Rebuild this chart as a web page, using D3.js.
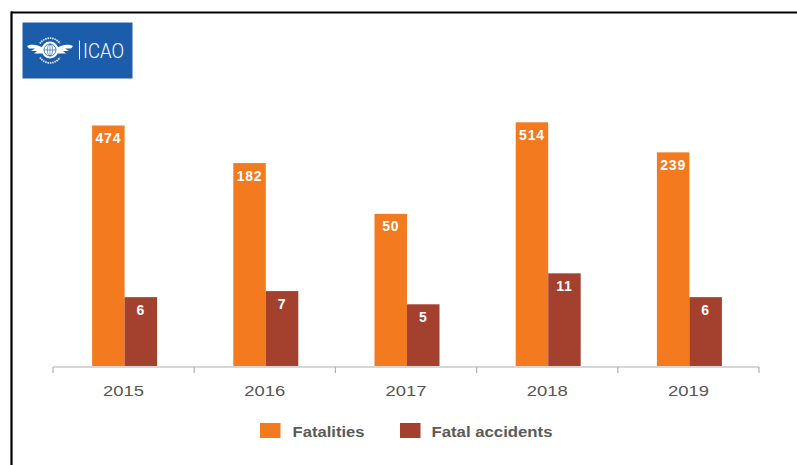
<!DOCTYPE html>
<html>
<head>
<meta charset="utf-8">
<script src="https://cdn.jsdelivr.net/npm/d3@7"></script>
<style>
  html, body { margin: 0; padding: 0; background: #fff; }
  svg { display: block; }
</style>
</head>
<body>
<script>
// ---- data ----
const years = ["2015", "2016", "2017", "2018", "2019"];
const seriesNames = ["Fatalities", "Fatal accidents"];
const fatalities = [474, 182, 50, 514, 239];
const fatalAccidents = [6, 7, 5, 11, 6];
const colors = ["#f47a20", "#a3402e"];

const W = 797, H = 465;
const svg = d3.select("body").append("svg").attr("width", W).attr("height", H);

// frame (top and left rule)
svg.append("rect").attr("x", 0).attr("y", 0).attr("width", W).attr("height", H).attr("fill", "#fff");
svg.append("line").attr("x1", 11).attr("x2", W).attr("y1", 12.5).attr("y2", 12.5)
  .attr("stroke", "#000").attr("stroke-width", 2.2);
svg.append("line").attr("x1", 11.5).attr("x2", 11.5).attr("y1", 11.5).attr("y2", H)
  .attr("stroke", "#000").attr("stroke-width", 2.2);

// ---- logo ----
const logo = svg.append("g");
logo.append("rect").attr("x", 22.5).attr("y", 22.5).attr("width", 110).attr("height", 56).attr("fill", "#1c5dab");
const em = logo.append("g").attr("transform", "translate(50,50)");
// wings
em.append("path").attr("d", "M-7,-2 C-13,-6 -19,-6 -23,-4 L-21,-1.5 L-15,-1.5 L-19,1 L-13,1 L-16,3.5 L-8,3.5 Z").attr("fill", "#fff");
em.append("path").attr("d", "M7,-2 C13,-6 19,-6 23,-4 L21,-1.5 L15,-1.5 L19,1 L13,1 L16,3.5 L8,3.5 Z").attr("fill", "#fff");
// globe
em.append("circle").attr("r", 8.5).attr("fill", "#fff");
em.append("circle").attr("r", 6).attr("fill", "none").attr("stroke", "#1c5dab").attr("stroke-width", 0.8);
em.append("ellipse").attr("rx", 2.6).attr("ry", 6).attr("fill", "none").attr("stroke", "#1c5dab").attr("stroke-width", 0.6);
em.append("line").attr("x1", -6).attr("x2", 6).attr("y1", 0).attr("y2", 0).attr("stroke", "#1c5dab").attr("stroke-width", 0.6);
em.append("line").attr("x1", 0).attr("x2", 0).attr("y1", -6).attr("y2", 6).attr("stroke", "#1c5dab").attr("stroke-width", 0.6);
// lettering arcs
em.append("path").attr("d", "M-10,-6.5 A12,12 0 0 1 10,-6.5").attr("fill", "none").attr("stroke", "#fff")
  .attr("stroke-width", 1.8).attr("stroke-dasharray", "1.5,0.8").attr("opacity", 0.85);
em.append("path").attr("d", "M-10,7.5 A12,12 0 0 0 10,7.5").attr("fill", "none").attr("stroke", "#fff")
  .attr("stroke-width", 1.8).attr("stroke-dasharray", "1.5,0.8").attr("opacity", 0.85);
logo.append("line").attr("x1", 79.5).attr("x2", 79.5).attr("y1", 40.5).attr("y2", 59.5).attr("stroke", "#fff").attr("stroke-width", 1);
logo.append("text").attr("x", 83).attr("y", 57.5).text("ICAO")
  .attr("fill", "#fff").attr("font-family", "Roboto, Arial, sans-serif").attr("font-weight", 300)
  .attr("font-size", 21).attr("textLength", 41).attr("lengthAdjust", "spacingAndGlyphs");

// ---- scales ----
const x = d3.scaleBand().domain(years).range([53, 759]).paddingInner(0).paddingOuter(0);
const x1 = d3.scaleBand().domain(seriesNames)
  .range([x.bandwidth() / 2 - 32.5, x.bandwidth() / 2 + 32.5]).padding(0);
const baseY = 366;
const y = d3.scaleLog().domain([1.04, 514]).range([baseY, 122.3]);

const rows = years.map((yr, i) => ({ year: yr, values: [fatalities[i], fatalAccidents[i]] }));

const groups = svg.append("g").selectAll("g").data(rows).join("g")
  .attr("transform", d => `translate(${x(d.year) + 1},0)`);

groups.selectAll("rect").data(d => d.values.map((v, j) => ({ key: seriesNames[j], v, j })))
  .join("rect")
  .attr("x", d => x1(d.key))
  .attr("width", x1.bandwidth())
  .attr("y", d => y(d.v))
  .attr("height", d => baseY - y(d.v))
  .attr("fill", d => colors[d.j]);

groups.selectAll("text").data(d => d.values.map((v, j) => ({ key: seriesNames[j], v, j })))
  .join("text")
  .attr("x", d => x1(d.key) + x1.bandwidth() / 2)
  .attr("y", d => y(d.v) + 17.5)
  .attr("text-anchor", "middle")
  .attr("fill", "#fff")
  .attr("font-family", "Liberation Sans, Arial, sans-serif")
  .attr("font-weight", "bold")
  .attr("font-size", 14)
  .attr("letter-spacing", 0.8)
  .text(d => d.v);

// ---- axis ----
const axis = svg.append("g");
const [r0, r1] = x.range();
axis.append("line").attr("x1", r0).attr("x2", r1).attr("y1", 367).attr("y2", 367)
  .attr("stroke", "#b0b0b0").attr("stroke-width", 1.2);
const edges = years.map(d => x(d)).concat([r1]);
axis.selectAll("line.tick").data(edges).join("line").attr("class", "tick")
  .attr("x1", d => d).attr("x2", d => d).attr("y1", 367).attr("y2", 373)
  .attr("stroke", "#b0b0b0").attr("stroke-width", 1.2);
axis.selectAll("text").data(years).join("text")
  .attr("x", d => x(d) + x.bandwidth() / 2)
  .attr("y", 396)
  .attr("text-anchor", "middle")
  .attr("fill", "#555")
  .attr("font-family", "Liberation Sans, Arial, sans-serif")
  .attr("font-size", 15.5)
  .attr("textLength", 41).attr("lengthAdjust", "spacingAndGlyphs")
  .text(d => d);

// ---- legend ----
const legendX = [260, 400];
const legendTextLen = [72, 121];
const legend = svg.append("g").selectAll("g").data(seriesNames).join("g")
  .attr("transform", (d, i) => `translate(${legendX[i]},423)`);
legend.append("rect").attr("width", 20.5).attr("height", 15).attr("fill", (d, i) => colors[i]);
legend.append("text").attr("x", (d, i) => i === 0 ? 32.5 : 31.5).attr("y", 13.5)
  .attr("fill", "#5a5a5a").attr("font-family", "Liberation Sans, Arial, sans-serif")
  .attr("font-size", 15).attr("font-weight", "bold")
  .attr("textLength", (d, i) => legendTextLen[i]).attr("lengthAdjust", "spacingAndGlyphs")
  .text(d => d);
</script>
</body>
</html>
